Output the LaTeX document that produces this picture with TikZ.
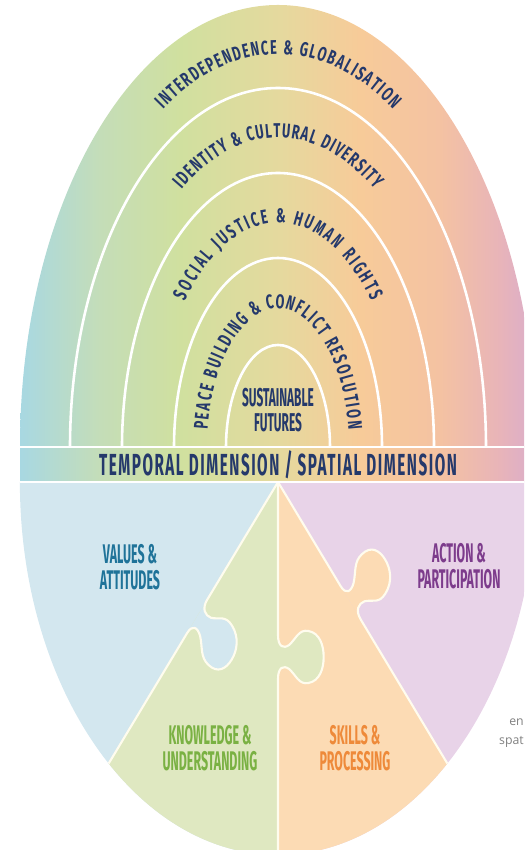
\documentclass[tikz,border=0pt]{standalone}
\usepackage{fontspec}
\usetikzlibrary{calc,decorations.text}
\newfontfamily\labelfont[FakeStretch=0.46]{Fira Sans}
\newfontfamily\ringfont[FakeStretch=0.64]{Fira Sans}
\newfontfamily\bandfont[FakeStretch=0.5,LetterSpace=5]{Fira Sans}
\newfontfamily\notefont{Open Sans}
\definecolor{rbA}{HTML}{A8D8E2}
\definecolor{rbB}{HTML}{C4DDB8}
\definecolor{rbC}{HTML}{D0E09F}
\definecolor{rbD}{HTML}{E5D99E}
\definecolor{rbE}{HTML}{F7CB99}
\definecolor{rbF}{HTML}{F4C2A2}
\definecolor{rbG}{HTML}{E8B4B9}
\definecolor{rbH}{HTML}{DAADCB}
\definecolor{ringnavy}{HTML}{25396B}
\definecolor{valblue}{HTML}{D3E7EF}
\definecolor{knowgreen}{HTML}{DFE8C1}
\definecolor{skillorange}{HTML}{FCDBB4}
\definecolor{actpurple}{HTML}{E8D3E8}
\definecolor{valtext}{HTML}{1F7399}
\definecolor{knowtext}{HTML}{7AB143}
\definecolor{skilltext}{HTML}{EE8A3A}
\definecolor{acttext}{HTML}{7D3C8C}
\definecolor{edgecream}{HTML}{FFFCEE}
\pgfdeclarehorizontalshading{rainbow}{100bp}{color(0bp)=(rbA); color(25bp)=(rbA); color(32.75bp)=(rbB); color(40.5bp)=(rbC); color(50.2bp)=(rbD); color(57.9bp)=(rbE); color(65.7bp)=(rbF); color(71.5bp)=(rbG); color(75bp)=(rbH); color(100bp)=(rbH)}
\newcommand{\jigtab}{(-22,0) .. controls (-10,0) and (-8,8) .. (-12,16) .. controls (-18,26) and (-28,30) .. (-26,44) .. controls (-24,60) and (-12,66) .. (0,66) .. controls (12,66) and (24,60) .. (26,44) .. controls (28,30) and (18,26) .. (12,16) .. controls (8,8) and (10,0) .. (22,0)}
\newcommand{\ringstyle}{\ringfont\bfseries\fontsize{17}{17}\selectfont}
\begin{document}
\begin{tikzpicture}[x=0.03cm,y=0.03cm,
    ring line/.style={white,line width=2.2pt},
    piece edge/.style={edgecream,line width=1.8pt,line join=round},
    ring text/.style={decorate,decoration={text along path,text align=fit to path,raise=-6pt,text color=ringnavy}},
    piece label/.style={font=\labelfont\bfseries\fontsize{23}{22}\selectfont,align=center}]
      \useasboundingbox (0,0) rectangle (524,850);
      \clip (0,0) rectangle (524,850);
      \coordinate (hub) at (278,403);
      \begin{scope}
        \clip (20,403) arc[start angle=180,end angle=0,x radius=258,y radius=442] -- cycle;
        \shade[shading=rainbow] (20,403) rectangle (536,845);
      \end{scope}
      \shade[shading=rainbow] (20,368) rectangle (536,403);
      \begin{scope}[shift={(278,368)},xscale=0.692]
        \clip (0,0) circle[radius=373];
        \fill[valblue] (-380,0) rectangle (0,-380);
        \fill[actpurple] (0,0) rectangle (380,-380);
        \fill[knowgreen] (0,0) -- (229:600) -- (270:600) -- cycle;
        \fill[skillorange] (0,0) -- (270:600) -- (311:600) -- cycle;
        \begin{scope}[rotate=229,shift={(178,0)}]
          \fill[valblue] \jigtab -- cycle;
          \draw[piece edge] (-178,0) -- \jigtab -- (422,0);
        \end{scope}
        \begin{scope}[rotate=270,shift={(175,0)}]
          \fill[knowgreen] \jigtab -- cycle;
          \draw[piece edge] (-175,0) -- \jigtab -- (425,0);
        \end{scope}
        \begin{scope}[rotate=311,shift={(160,0)}]
          \fill[skillorange] \jigtab -- cycle;
          \draw[piece edge] (-160,0) -- \jigtab -- (440,0);
        \end{scope}
      \end{scope}
      \foreach \rx/\ry in {52/102,104/189,156/274,208/359}
        \draw[ring line] ($(hub)+(-\rx,0)$) arc[start angle=180,end angle=0,x radius=\rx,y radius=\ry];
      \draw[ring line] (20,403) -- (536,403);
      \draw[ring line] (20,368) -- (536,368);
      \path[ring text,decoration={text={|\ringstyle|INTERDEPENDENCE {\&} GLOBALISATION}}]
        ($(hub)+(121:233 and 400)$) arc[start angle=121,end angle=59,x radius=233,y radius=400];
      \path[ring text,decoration={text={|\ringstyle|IDENTITY {\&} CULTURAL DIVERSITY}}]
        ($(hub)+(124:182 and 316.5)$) arc[start angle=124,end angle=56,x radius=182,y radius=316.5];
      \path[ring text,decoration={text={|\ringstyle|SOCIAL JUSTICE {\&} HUMAN RIGHTS}}]
        ($(hub)+(140:130 and 231.5)$) arc[start angle=140,end angle=40,x radius=130,y radius=231.5];
      \path[ring text,decoration={text={|\ringstyle|PEACE BUILDING {\&} CONFLICT RESOLUTION}}]
        ($(hub)+(173:78 and 145.5)$) arc[start angle=173,end angle=7,x radius=78,y radius=145.5];
      \node[font=\labelfont\bfseries\fontsize{22}{22}\selectfont,align=center,text=ringnavy] (futures) at (278,440) {SUSTAINABLE\\FUTURES};
      \node[font=\bandfont\bfseries\fontsize{26}{26}\selectfont,text=ringnavy] (band) at (278,385.5) {TEMPORAL DIMENSION / SPATIAL DIMENSION};
      \node[piece label,text=valtext] (values) at (130,283) {VALUES \&\\ATTITUDES};
      \node[piece label,text=acttext] (action) at (459,284) {ACTION \&\\PARTICIPATION};
      \node[piece label,text=knowtext] (knowledge) at (210,102) {KNOWLEDGE \&\\UNDERSTANDING};
      \node[piece label,text=skilltext] (skills) at (355,102) {SKILLS \&\\PROCESSING};
      \node[font=\notefont\fontsize{10.5}{12}\selectfont,text=gray,anchor=east,inner sep=0pt] (en) at (524,128) {en};
      \node[font=\notefont\fontsize{10.5}{12}\selectfont,text=gray,anchor=east,inner sep=0pt] (spat) at (524,108) {spat};
    \end{tikzpicture}
\end{document}
